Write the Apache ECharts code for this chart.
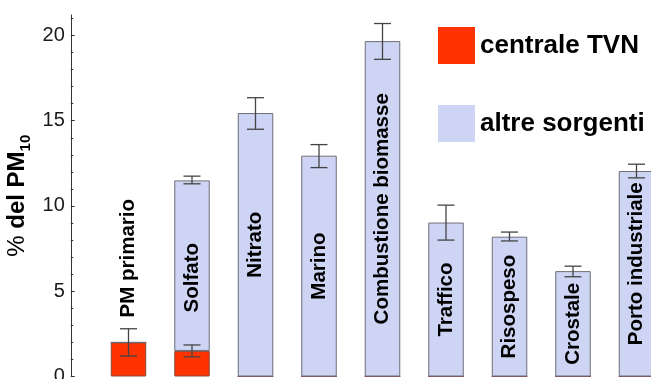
<!DOCTYPE html>
<html>
<head>
<meta charset="utf-8">
<script src="https://cdn.jsdelivr.net/npm/echarts@6/dist/echarts.min.js"></script>
<style>
  html, body { margin: 0; padding: 0; background: #fff; }
  #chart { width: 651px; height: 379px; }
</style>
</head>
<body>
<div id="chart"></div>
<script>
// Source categories (apportionment of PM10)
const categories = ['PM primario', 'Solfato', 'Nitrato', 'Marino', 'Combustione biomasse',
  'Traffico', 'Risospeso', 'Crostale', 'Porto industriale'];

// Contribution of the power plant (stacked at the bottom)
const centraleTVN = [2.0, 1.5, 0, 0, 0, 0, 0, 0, 0];
// Contribution of the other sources (stacked on top)
const altreSorgenti = [0, 10.0, 15.45, 12.95, 19.67, 9.03, 8.2, 6.18, 12.05];

// Uncertainty ranges [low, high] for the plant share
const errTVN = [[1.2, 2.8], [1.15, 1.85], null, null, null, null, null, null, null];
// Uncertainty ranges [low, high] for the stacked totals
const errTotale = [null, [11.3, 11.75], [14.5, 16.35], [12.25, 13.6], [18.6, 20.7],
  [8.0, 10.05], [7.95, 8.47], [5.85, 6.47], [11.65, 12.45]];

const yTicks = [0, 5, 10, 15, 20];

const FONT = '"Liberation Sans", Arial, sans-serif';

const errData = [];
[errTVN, errTotale].forEach(arr => arr.forEach((r, i) => { if (r) errData.push([i, r[0], r[1]]); }));

const chart = echarts.init(document.getElementById('chart'), null, { renderer: 'canvas' });

const barLabelBase = {
  show: true,
  position: 'inside',
  rotate: 90,
  fontFamily: FONT,
  fontWeight: 'bold',
  fontSize: 20.5,
  color: '#000',
  formatter: p => p.name
};

chart.setOption({
  animation: false,
  backgroundColor: '#fff',
  grid: { left: 96.75, width: 571.5, top: 15, height: 361.5, containLabel: false, outerBoundsMode: 'none' },
  legend: {
    orient: 'vertical',
    left: 433,
    top: 22,
    itemWidth: 37,
    itemHeight: 37,
    itemGap: 41,
    icon: 'rect',
    selectedMode: false,
    data: ['centrale TVN', 'altre sorgenti'],
    itemStyle: { borderWidth: 0 },
    textStyle: { fontFamily: FONT, fontWeight: 'bold', fontSize: 26, color: '#000', padding: [0, 0, 0, 0] }
  },
  xAxis: {
    type: 'category',
    data: categories,
    axisLine: { show: false },
    axisTick: { show: false },
    axisLabel: { show: false },
    splitLine: { show: false }
  },
  yAxis: {
    type: 'value',
    min: 0,
    max: 21.2,
    interval: 5,
    offset: 26,
    name: '{p|%}{m| del PM}{s|10}',
    nameLocation: 'middle',
    nameRotate: 90,
    nameGap: 37,
    nameMoveOverlap: false,
    nameTextStyle: {
      rich: {
        p: { fontFamily: FONT, fontSize: 24, fontWeight: 'normal', color: '#000', lineHeight: 28, verticalAlign: 'top' },
        m: { fontFamily: FONT, fontSize: 24, fontWeight: 'bold', color: '#000', lineHeight: 28, verticalAlign: 'top' },
        s: { fontFamily: FONT, fontSize: 15, fontWeight: 'bold', color: '#000', lineHeight: 15, verticalAlign: 'bottom' }
      }
    },
    axisLine: { show: true, lineStyle: { color: '#333', width: 1 } },
    axisTick: { show: true, inside: true, length: 4, customValues: yTicks, lineStyle: { color: '#333', width: 1 } },
    minorTick: { show: true, splitNumber: 5, length: 2.5, lineStyle: { color: '#333', width: 1 } },
    axisLabel: { customValues: yTicks, fontFamily: FONT, fontSize: 20, color: '#1a1a1a', margin: 6 },
    splitLine: { show: false }
  },
  series: [
    {
      name: 'centrale TVN',
      type: 'bar',
      stack: 'tot',
      barWidth: 35.5,
      data: centraleTVN.map((v, i) => i === 0
        ? { value: v, label: Object.assign({}, barLabelBase, { position: 'top', distance: 25, align: 'left', verticalAlign: 'middle' }) }
        : v),
      itemStyle: { color: '#ff3300', borderColor: '#8a4a40', borderWidth: 1 },
      label: { show: false }
    },
    {
      name: 'altre sorgenti',
      type: 'bar',
      stack: 'tot',
      barWidth: 35.5,
      data: altreSorgenti.map((v, i) => {
        if (i === 1) return { value: v, label: Object.assign({}, barLabelBase, { offset: [-12, 0] }) };
        if (i === 8) return { value: v, label: Object.assign({}, barLabelBase, { offset: [10, 0] }) };
        return v;
      }),
      itemStyle: { color: '#cdd4f4', borderColor: '#6e6e78', borderWidth: 1 },
      label: Object.assign({}, barLabelBase, { show: true, formatter: p => (p.value > 0 ? p.name : '') })
    },
    {
      name: 'errori',
      type: 'custom',
      z: 10,
      data: errData,
      encode: { x: 0, y: [1, 2] },
      renderItem: (params, api) => {
        const x = api.coord([api.value(0), 0])[0];
        const lo = api.coord([api.value(0), api.value(1)])[1];
        const hi = api.coord([api.value(0), api.value(2)])[1];
        const hw = 8.5;
        const style = { stroke: '#444', lineWidth: 1.3 };
        return {
          type: 'group',
          children: [
            { type: 'line', shape: { x1: x, y1: lo, x2: x, y2: hi }, style },
            { type: 'line', shape: { x1: x - hw, y1: lo, x2: x + hw, y2: lo }, style },
            { type: 'line', shape: { x1: x - hw, y1: hi, x2: x + hw, y2: hi }, style }
          ]
        };
      }
    }
  ]
});
</script>
</body>
</html>
